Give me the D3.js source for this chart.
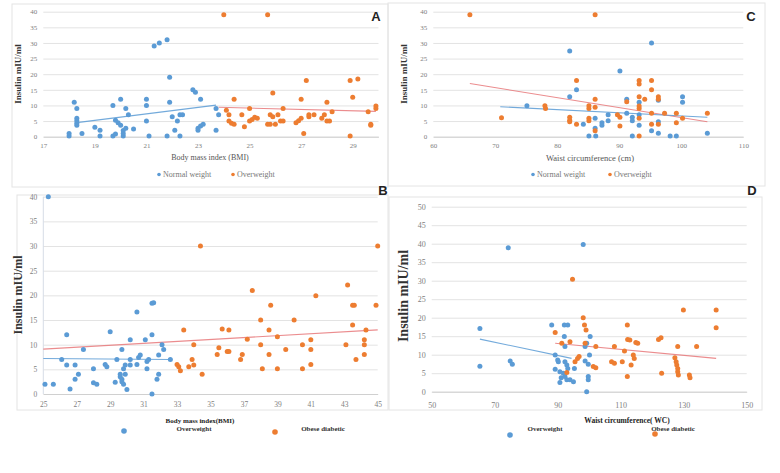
<!DOCTYPE html>
<html><head><meta charset="utf-8">
<script src="https://cdn.jsdelivr.net/npm/d3@7"></script>
<style>body{margin:0;background:#fff}svg{display:block}</style>
</head><body>
<svg id="chart" width="780" height="473"></svg>
<script>
// ---------- DATA ----------
// Panel A: BMI vs insulin
const aNormal = [[18.0,1],[18.0,0.2],[18.2,11],[18.3,9],[18.3,5.9],[18.3,5.1],[18.3,4.3],[18.3,3.7],[18.5,1],[19.0,3],[19.2,2.1],[19.2,0.2],[19.7,10],[19.7,0.2],[19.8,0.9],[19.8,5.3],[19.9,4.5],[20.0,3.7],[20.0,12],[20.1,0.2],[20.1,1],[20.1,2],[20.2,9],[20.2,2.7],[20.3,7],[20.5,2.5],[21.0,12],[21.0,10],[21.0,5],[21.1,0.2],[21.3,29],[21.5,30],[21.8,31],[21.9,19],[21.9,11],[21.8,0.2],[22.0,6.4],[22.1,2.1],[22.2,5],[22.3,7],[22.4,7],[22.3,0.2],[22.8,15],[22.9,14.2],[23.1,12],[23.0,2.1],[23.0,2.7],[23.1,3.4],[23.2,4],[23.7,9],[23.7,2.1],[23.8,7]];
const aOver = [[24.0,39],[25.7,39],[24.1,8.5],[24.2,7],[24.2,5],[24.3,4.3],[24.4,4],[24.4,12],[24.7,7],[24.8,3.2],[25.0,9],[25.0,5],[25.1,5.5],[25.2,6.2],[25.3,5.9],[25.7,4],[25.8,4],[26.0,4],[25.8,7],[25.9,6.4],[25.9,14],[26.1,7],[26.2,5],[26.3,5],[26.3,9],[26.8,4.5],[26.9,5.1],[27.0,5.9],[27.0,12],[27.1,1],[27.2,18],[27.3,6.4],[27.3,7],[27.5,7],[27.8,5.9],[28.0,11],[27.9,7],[28.0,5],[28.1,5],[28.2,8],[28.9,18],[28.9,0.2],[29.0,12.6],[29.2,18.5],[29.6,8],[29.7,4],[29.7,3.7],[29.9,9.8],[29.9,9]];
const aTrendNormal = [[18.3,4.5],[23.7,10.1]];
const aTrendOver = [[23.8,9.4],[29.9,8.1]];
const aXTicks = [17,19,21,23,25,27,29];

// Panel C: waist circumference vs insulin
const cNormal = [[82.0,27.4],[83.1,15],[82.0,12.8],[75.1,9.9],[84.2,4],[85.1,0.2],[86.1,5.9],[86.1,2.7],[86.2,0.2],[87.2,4.5],[87.2,3.7],[88.2,7],[88.2,5.1],[90.1,21],[91.2,12],[91.2,7.5],[92.1,6.2],[92.1,5.1],[92.1,0.2],[93.2,11],[93.2,7],[93.2,3.7],[95.2,30],[95.2,1.9],[96.3,11.7],[96.3,4.8],[96.3,1.1],[98.2,0.2],[99.2,0.2],[100.2,12.8],[100.2,11],[104.2,1.1]];
const cOver = [[65.9,39],[86.1,39],[71.0,6.1],[78.0,9.9],[78.1,9],[82.0,6.2],[82.0,5.3],[82.0,4.8],[83.1,18],[83.1,4],[85.1,9.9],[85.1,9],[85.1,5.9],[85.1,5.1],[86.1,12],[86.1,9.4],[86.1,1.9],[89.7,7],[90.1,6.2],[90.1,3.4],[91.2,11.2],[93.2,18],[93.2,16.9],[93.2,12.8],[93.2,9.8],[93.2,9],[93.2,5.9],[93.2,0.2],[94.1,12],[95.2,18],[95.2,15],[95.2,7.5],[95.2,4],[96.3,12.8],[96.3,12],[96.3,4],[97.3,7.5],[99.2,7.5],[99.2,4.5],[100.2,5.9],[104.2,7.5]];
const cTrendNormal = [[70.8,9.6],[104.2,6.2]];
const cTrendOver = [[65.9,17],[104.2,4.8]];
const cXTicks = [60,70,80,90,100,110];

// Panel B: BMI vs insulin (overweight vs obese diabetic)
const bOver = [[25.3,40],[25.1,2],[25.6,2],[26.1,7],[26.4,12],[26.4,5.9],[26.6,1],[26.9,5.9],[26.9,3],[27.1,4],[27.4,9],[28.0,5.1],[28.0,2.3],[28.2,2],[28.7,6],[28.8,5.5],[29.0,12.6],[29.3,2.4],[29.4,7],[29.6,4],[29.6,3.5],[29.7,3],[29.7,2.5],[29.8,2],[29.7,9],[29.8,5.1],[29.9,5.9],[29.9,4],[30.0,0.9],[30.2,11],[30.2,7],[30.2,5.9],[30.6,16.6],[30.6,6],[30.7,7.4],[30.8,7.9],[31.1,11],[31.2,6.6],[31.2,5.1],[31.3,7],[31.5,18.4],[31.6,18.5],[31.5,12],[31.5,0],[31.8,3],[31.9,4],[31.9,7.9],[32.1,10],[32.2,9],[32.6,7]];
const bObese = [[33.0,6],[33.1,5.5],[33.2,4.7],[33.4,13],[33.7,5.5],[33.9,7],[34.0,5.9],[34.0,10],[34.4,30],[34.5,4],[35.4,8],[35.5,9.4],[35.7,13.2],[36.0,8.6],[36.1,8.6],[36.1,13],[36.8,7],[36.9,8],[37.2,11.1],[37.5,21],[38.0,15],[38.0,10],[38.1,5.1],[38.5,13],[38.5,8],[38.6,18],[39.0,11.6],[39.0,5.1],[39.5,9],[40.0,15],[40.5,10],[40.5,5.1],[41.0,11],[41.0,9],[41.0,6],[41.3,19.9],[43.1,10],[43.2,22.1],[43.5,18],[43.6,18],[43.5,14],[43.7,7],[44.2,8],[44.2,10],[44.2,11],[44.3,13],[44.9,18],[45.0,30]];
const bTrendOver = [[25,7.2],[32.6,7.0]];
const bTrendObese = [[25,9.1],[45,13]];
const bXTicks = [25,27,29,31,33,35,37,39,41,43,45];

// Panel D: waist circumference vs insulin (overweight vs obese diabetic)
const dOver = [[65.3,17.1],[65.3,6.9],[74.3,38.9],[74.9,8.3],[75.6,7.4],[88.1,18],[89.2,9.9],[89.2,6.1],[90.0,8.6],[90.2,8.1],[90.7,5.4],[91.1,3.8],[90.7,2.5],[92.1,18],[93.2,18],[92.1,14.9],[92.3,12.2],[92.3,8.1],[92.9,7.2],[93.2,6.3],[91.8,5],[92.3,4.1],[92.9,3.2],[93.9,3.2],[95.0,2.7],[95.3,6.3],[98.1,39.8],[98.7,12.2],[99.2,13.1],[98.7,8.3],[99.2,0],[99.7,4.1],[99.7,3.2],[100.1,9.9],[100.3,14.9],[99.7,7.4]];
const dObese = [[89.2,16],[91.3,13.1],[93.9,13.5],[92.9,5.2],[94.7,30.4],[95.5,8.1],[96.3,9],[96.8,9.5],[98.1,20],[98.5,18],[99.0,16.7],[98.7,13.1],[101.3,6.8],[102.1,6.5],[102.1,12.2],[108.0,12.2],[107.1,8.1],[108.0,7.7],[111.2,11],[110.5,8.1],[112.1,18],[112.2,14.1],[112.9,14],[112.1,4.1],[113.3,7.2],[114.0,9.9],[114.3,9],[114.8,13.3],[115.4,13.1],[122.0,14.1],[122.8,14.6],[123.0,5],[128.1,12.2],[127.2,9.2],[127.6,8.1],[127.8,7.2],[128.1,6.3],[128.1,5.4],[128.3,4.5],[129.9,22.1],[131.8,4.5],[132.0,3.8],[134.1,12.2],[140.3,22.1],[140.3,17.3]];
const dTrendOver = [[65.3,14.2],[94.4,9]];
const dTrendObese = [[89.2,13.1],[140.3,9]];
const dXTicks = [50,70,90,110,130,150];

const yTicks40 = [0,5,10,15,20,25,30,35,40];
const yTicks50 = [0,5,10,15,20,25,30,35,40,45,50];

// ---------- DRAW ----------
const BLUE = "#5b9bd5", ORANGE = "#ed7d31", TRENDRED = "#e8787a";
const svg = d3.select("#chart");
const serif = "'Liberation Serif','DejaVu Serif',serif";

// faint panel frames
const frames = [[12,4,388,187],[388,3,765,186],[17,195,388,410],[389,197,762,410]];
svg.selectAll("rect.frame").data(frames).join("rect")
  .attr("x", d=>d[0]).attr("y", d=>d[1]).attr("width", d=>d[2]-d[0]).attr("height", d=>d[3]-d[1])
  .attr("fill","none").attr("stroke","#e4e4e4").attr("stroke-width",1);

function panel(cfg){
  const g = svg.append("g");
  const x = d3.scaleLinear().domain(cfg.xDomain).range([cfg.left, cfg.right]);
  const y = d3.scaleLinear().domain(cfg.yDomain).range([cfg.bottom, cfg.top]);
  // gridlines
  g.append("g").attr("transform",`translate(${cfg.left},0)`)
    .call(d3.axisLeft(y).tickValues(cfg.yTicks).tickSize(-(cfg.right-cfg.left)).tickFormat(""))
    .call(a=>a.select(".domain").remove())
    .call(a=>a.selectAll("line").attr("stroke","#e3e3e3"));
  // y tick labels
  g.append("g").attr("transform",`translate(${cfg.left-6},0)`)
    .call(d3.axisLeft(y).tickValues(cfg.yTicks).tickSize(0).tickPadding(0))
    .call(a=>a.select(".domain").remove())
    .call(a=>a.selectAll("text").attr("font-family",serif).attr("font-size",cfg.tickSize).attr("fill","#808080"));
  // x axis baseline + labels
  g.append("g").attr("transform",`translate(0,${cfg.bottom})`)
    .call(d3.axisBottom(x).tickValues(cfg.xTicks).tickSize(0).tickPadding(cfg.xPad))
    .call(a=>a.select(".domain").attr("stroke","#d0d0d0"))
    .call(a=>a.selectAll("text").attr("font-family",serif).attr("font-size",cfg.tickSize).attr("fill","#808080"));
  // left axis line
  if (cfg.yLine) g.append("line").attr("x1",cfg.left).attr("x2",cfg.left).attr("y1",y(cfg.yDomain[1])).attr("y2",y(0))
    .attr("stroke","#d6dde6");
  // trend lines
  const line = d3.line().x(d=>x(d[0])).y(d=>y(d[1]));
  cfg.trends.forEach(t=>{
    g.append("path").attr("d", line(t.pts)).attr("fill","none").attr("stroke",t.color).attr("stroke-width",1.1).attr("opacity",0.85);
  });
  // points
  cfg.series.forEach(s=>{
    g.append("g").selectAll("circle").data(s.data).join("circle")
      .attr("cx",d=>x(d[0])).attr("cy",d=>y(d[1])).attr("r",2.5).attr("fill",s.color);
  });
  // y title
  g.append("text").attr("transform",`translate(${cfg.yTitleX},${cfg.yTitleY}) rotate(-90)`)
    .attr("text-anchor","middle").attr("font-family",serif).attr("font-weight","bold")
    .attr("font-size",cfg.yTitleSize).attr("fill","#333").text("Insulin mIU/ml");
  // x title
  g.append("text").attr("x",cfg.xTitleX).attr("y",cfg.xTitleY).attr("text-anchor","middle")
    .attr("font-family",serif).attr("font-size",cfg.xTitleSize).attr("font-weight",cfg.xTitleWeight)
    .attr("fill",cfg.xTitleColor).text(cfg.xTitle);
  // legend
  cfg.legend.forEach(l=>{
    g.append("circle").attr("cx",l.mx).attr("cy",l.my).attr("r",l.r).attr("fill",l.color);
    g.append("text").attr("x",l.tx).attr("y",l.ty).attr("text-anchor",l.anchor).attr("font-family",serif)
      .attr("font-size",l.size).attr("font-weight",l.weight).attr("fill",l.fill).text(l.text);
  });
  // panel letter
  svg.append("text").attr("x",cfg.letterX).attr("y",cfg.letterY).attr("text-anchor","middle")
    .attr("font-family","'Liberation Sans',Arial,sans-serif").attr("font-weight","bold").attr("font-size",13)
    .attr("fill","#222").text(cfg.letter);
}

panel({left:43.3,right:378.5,top:11.7,bottom:136.7,xDomain:[17,30],yDomain:[0,40],xTicks:aXTicks,yTicks:yTicks40,
  tickSize:7,xPad:6,yLine:false,
  series:[{data:aNormal,color:BLUE},{data:aOver,color:ORANGE}],
  trends:[{pts:aTrendNormal,color:BLUE},{pts:aTrendOver,color:TRENDRED}],
  yTitleX:21,yTitleY:74,yTitleSize:9,
  xTitle:"Body mass index (BMI)",xTitleX:210,xTitleY:160,xTitleSize:8,xTitleWeight:"normal",xTitleColor:"#555",
  legend:[{mx:159,my:174.5,r:1.8,color:BLUE,tx:163,ty:177,anchor:"start",size:8,weight:"normal",fill:"#777",text:"Normal weight"},
          {mx:233,my:174.5,r:1.8,color:ORANGE,tx:237,ty:177,anchor:"start",size:8,weight:"normal",fill:"#777",text:"Overweight"}],
  letter:"A",letterX:376,letterY:21});

panel({left:433.3,right:743.3,top:11.7,bottom:136.7,xDomain:[60,110],yDomain:[0,40],xTicks:cXTicks,yTicks:yTicks40,
  tickSize:7,xPad:6,yLine:false,
  series:[{data:cNormal,color:BLUE},{data:cOver,color:ORANGE}],
  trends:[{pts:cTrendOver,color:TRENDRED},{pts:cTrendNormal,color:BLUE}],
  yTitleX:407,yTitleY:74,yTitleSize:9,
  xTitle:"Waist circumference (cm)",xTitleX:590,xTitleY:161,xTitleSize:8.5,xTitleWeight:"normal",xTitleColor:"#555",
  legend:[{mx:533,my:174.5,r:1.8,color:BLUE,tx:537,ty:177,anchor:"start",size:8,weight:"normal",fill:"#777",text:"Normal weight"},
          {mx:610,my:174.5,r:1.8,color:ORANGE,tx:614,ty:177,anchor:"start",size:8,weight:"normal",fill:"#777",text:"Overweight"}],
  letter:"C",letterX:751,letterY:21});

panel({left:43.3,right:377.7,top:196.7,bottom:394,xDomain:[25,45],yDomain:[0,40],xTicks:bXTicks,yTicks:yTicks40,
  tickSize:7.5,xPad:8,yLine:true,
  series:[{data:bOver,color:BLUE},{data:bObese,color:ORANGE}],
  trends:[{pts:bTrendOver,color:BLUE},{pts:bTrendObese,color:TRENDRED}],
  yTitleX:22,yTitleY:295,yTitleSize:12,
  xTitle:"Body mass index(BMI)",xTitleX:200,xTitleY:423,xTitleSize:7,xTitleWeight:"bold",xTitleColor:"#222",
  legend:[{mx:124,my:431,r:2.8,color:BLUE,tx:194,ty:431,anchor:"middle",size:7,weight:"bold",fill:"#333",text:"Overweight"},
          {mx:275,my:432,r:2.8,color:ORANGE,tx:323,ty:431,anchor:"middle",size:7,weight:"bold",fill:"#333",text:"Obese diabetic"}],
  letter:"B",letterX:383,letterY:195});

panel({left:431.7,right:746.7,top:206.7,bottom:391.7,xDomain:[50,150],yDomain:[0,50],xTicks:dXTicks,yTicks:yTicks50,
  tickSize:8,xPad:11,yLine:false,
  series:[{data:dOver,color:BLUE},{data:dObese,color:ORANGE}],
  trends:[{pts:dTrendOver,color:BLUE},{pts:dTrendObese,color:TRENDRED}],
  yTitleX:408,yTitleY:296,yTitleSize:14,
  xTitle:"Waist circumference( WC)",xTitleX:627,xTitleY:423,xTitleSize:7.5,xTitleWeight:"bold",xTitleColor:"#222",
  legend:[{mx:510,my:435,r:2.8,color:BLUE,tx:545,ty:431,anchor:"middle",size:7,weight:"bold",fill:"#333",text:"Overweight"},
          {mx:655,my:434,r:2.8,color:ORANGE,tx:673,ty:431,anchor:"middle",size:7,weight:"bold",fill:"#333",text:"Obese diabetic"}],
  letter:"D",letterX:752,letterY:195});
</script>
</body></html>
